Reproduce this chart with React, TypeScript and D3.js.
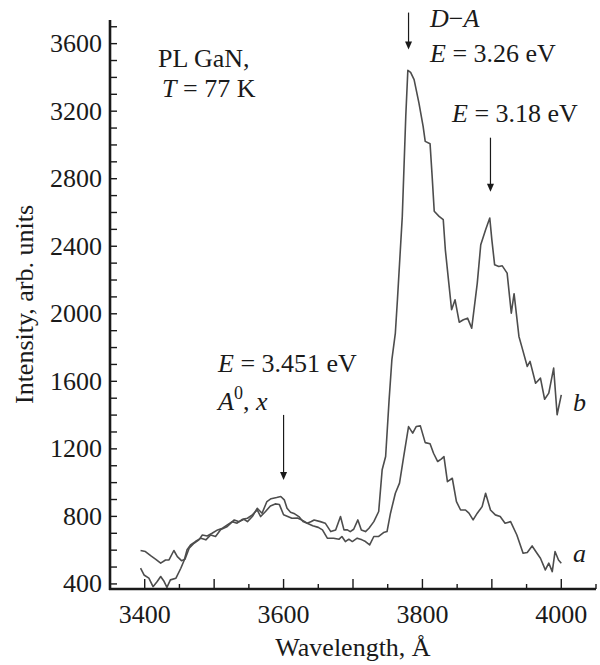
import React from 'react';
import * as d3 from 'd3';

// Curve a (lower at long wavelengths)
const waveA = [3394,3401,3409,3416,3423,3430,3435,3442,3447,3453,3458,3464,3471,3478,3483,3490,3497,3505,3512,3519,3526,3533,3541,3548,3555,3562,3567,3574,3581,3588,3594,3600,3606,3612,3620,3628,3634,3642,3650,3656,3663,3672,3680,3684,3689,3694,3699,3706,3713,3718,3724,3730,3737,3744,3749,3754,3761,3767,3773,3780,3786,3791,3797,3804,3811,3816,3822,3827,3831,3836,3843,3849,3855,3862,3867,3873,3879,3886,3891,3898,3905,3912,3919,3927,3936,3945,3951,3958,3965,3970,3977,3982,3987,3991,3996,4000];
const intensA = [598,592,566,546,523,542,542,598,562,538,546,611,641,661,690,684,700,720,730,750,769,760,783,789,809,838,799,829,862,874,870,810,800,789,790,775,760,745,735,720,671,671,665,681,651,665,651,671,661,651,631,681,681,704,710,819,937,997,1154,1332,1293,1332,1336,1237,1230,1174,1125,1139,1154,1006,1026,888,838,838,819,779,819,858,937,838,809,799,760,769,690,582,586,625,582,552,483,523,473,592,542,523];

// Curve b (with the strong D-A peak)
const waveB = [3394,3399,3406,3412,3418,3423,3428,3432,3437,3445,3452,3457,3461,3466,3473,3481,3488,3495,3502,3509,3519,3529,3536,3543,3548,3555,3562,3569,3576,3582,3590,3596,3601,3605,3610,3616,3622,3628,3634,3640,3644,3653,3660,3668,3675,3682,3687,3692,3696,3701,3707,3712,3718,3723,3730,3737,3742,3747,3752,3756,3761,3764,3771,3776,3779,3783,3788,3795,3801,3804,3811,3814,3817,3824,3830,3833,3838,3842,3847,3853,3859,3865,3871,3879,3884,3891,3897,3900,3904,3910,3915,3922,3928,3932,3939,3943,3951,3955,3963,3970,3976,3982,3989,3994,4000];
const intensB = [493,453,434,384,414,444,414,380,424,434,493,542,602,631,651,671,661,690,681,720,740,779,769,783,769,799,848,819,888,905,912,918,898,848,825,815,799,770,760,770,779,769,760,710,720,799,720,720,710,724,779,720,710,730,769,829,1076,1155,1490,1728,1886,2083,2577,3169,3442,3430,3387,3248,3110,3021,3007,2814,2607,2577,2557,2379,2182,2024,2083,1950,1965,1974,1915,2182,2409,2498,2567,2438,2290,2280,2284,2241,2004,2119,1866,1807,1688,1718,1589,1619,1494,1530,1678,1402,1520];

const xTickLabels = [3400, 3600, 3800, 4000];
const yTickLabels = [400, 800, 1200, 1600, 2000, 2400, 2800, 3200, 3600];

const FONT = '"Liberation Serif", "Times New Roman", serif';

export default function App() {
  const W = 600, H = 665;
  const x = d3.scaleLinear().domain([3350, 4050]).range([110, 596]);
  const y = d3.scaleLinear().domain([370, 3740]).range([589, 20]);
  const line = d3.line<[number, number]>().x(d => x(d[0])).y(d => y(d[1]));
  const dataA: [number, number][] = waveA.map((w, i) => [w, intensA[i]]);
  const dataB: [number, number][] = waveB.map((w, i) => [w, intensB[i]]);
  const xTicks = d3.range(3400, 4051, 50);
  const yTicks = d3.range(400, 3701, 100);
  const x0 = x.range()[0], x1 = x.range()[1];
  const y0 = y.range()[0], y1 = y.range()[1];

  const arrows = [
    { wl: 3780, from: 3784, to: 3565 },
    { wl: 3898, from: 3043, to: 2723 },
    { wl: 3600, from: 1401, to: 1016 },
  ];

  return (
    <svg width={W} height={H} style={{ position: 'absolute', left: 0, top: 0, background: '#fff' }}
      fontFamily={FONT} fontSize={26}>
      <rect x={0} y={0} width={W} height={H} fill="#fff" />
      {/* curves */}
      <path d={line(dataA) || ''} fill="none" stroke="#4d4d4d" strokeWidth={1.6} strokeLinejoin="round" />
      <path d={line(dataB) || ''} fill="none" stroke="#4d4d4d" strokeWidth={1.6} strokeLinejoin="round" />
      {/* axes */}
      <line x1={x0} x2={x0} y1={y0 + 1} y2={y1} stroke="#1a1a1a" strokeWidth={2.6} />
      <line x1={x0 - 1} x2={x1} y1={y0} y2={y0} stroke="#1a1a1a" strokeWidth={2.6} />
      {yTicks.map(t => (
        <line key={'yt' + t} x1={x0} x2={x0 + 7} y1={y(t)} y2={y(t)} stroke="#1a1a1a" strokeWidth={1.4} />
      ))}
      {xTicks.map(t => (
        <line key={'xt' + t} x1={x(t)} x2={x(t)} y1={y0} y2={y0 - (t % 100 === 0 ? 10 : 5)} stroke="#1a1a1a" strokeWidth={1.4} />
      ))}
      {yTickLabels.map(t => (
        <text key={'yl' + t} x={102} y={y(t) + 8.5} textAnchor="end" fill="#1a1a1a">{t}</text>
      ))}
      {xTickLabels.map(t => (
        <text key={'xl' + t} x={x(t)} y={623} textAnchor="middle" fill="#1a1a1a">{t}</text>
      ))}
      <text x={(x0 + x1) / 2} y={656} textAnchor="middle" fill="#1a1a1a">Wavelength, Å</text>
      <text transform={`translate(33,${(y0 + y1) / 2}) rotate(-90)`} textAnchor="middle" fill="#1a1a1a">Intensity, arb. units</text>

      {/* annotations */}
      {arrows.map((a, i) => {
        const ax = x(a.wl), ya = y(a.from), yb = y(a.to);
        return (
          <g key={'ar' + i}>
            <line x1={ax} x2={ax} y1={ya} y2={yb - 6} stroke="#1a1a1a" strokeWidth={1.2} />
            <path d={`M${ax - 3.5},${yb - 8} L${ax + 3.5},${yb - 8} L${ax},${yb} Z`} fill="#1a1a1a" />
          </g>
        );
      })}
      <text x={158} y={67} fill="#1a1a1a">PL GaN,</text>
      <text x={162} y={97} fill="#1a1a1a"><tspan fontStyle="italic">T</tspan> = 77 K</text>
      <text x={430} y={27} fill="#1a1a1a"><tspan fontStyle="italic">D</tspan>−<tspan fontStyle="italic">A</tspan></text>
      <text x={430} y={62} fill="#1a1a1a"><tspan fontStyle="italic">E</tspan> = 3.26 eV</text>
      <text x={452} y={122} fill="#1a1a1a"><tspan fontStyle="italic">E</tspan> = 3.18 eV</text>
      <text x={218} y={372} fill="#1a1a1a"><tspan fontStyle="italic">E</tspan> = 3.451 eV</text>
      <text x={218} y={410} fill="#1a1a1a"><tspan fontStyle="italic">A</tspan><tspan dy={-11} fontSize={18}>0</tspan><tspan dy={11}>, </tspan><tspan fontStyle="italic">x</tspan></text>
      <text x={573} y={562} fill="#1a1a1a" fontStyle="italic">a</text>
      <text x={573} y={411} fill="#1a1a1a" fontStyle="italic">b</text>
    </svg>
  );
}
